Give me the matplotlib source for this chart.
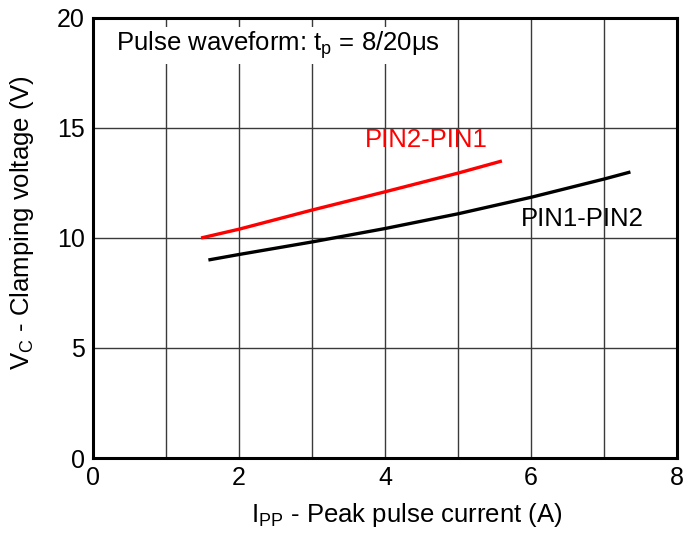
import matplotlib
matplotlib.use("Agg")
import matplotlib.pyplot as plt
from matplotlib.ticker import MultipleLocator

plt.rcParams["font.family"] = ["Liberation Sans", "DejaVu Sans"]
plt.rcParams["mathtext.fontset"] = "custom"
plt.rcParams["mathtext.rm"] = "Liberation Sans"

# PIN2-PIN1 (red) and PIN1-PIN2 (black) clamping voltage vs peak pulse current
ipp_21 = [1.48, 2.0, 3.0, 4.0, 5.0, 5.6]
vc_21 = [10.0, 10.4, 11.27, 12.1, 12.95, 13.5]

ipp_12 = [1.58, 2.0, 3.0, 4.0, 5.0, 6.0, 7.0, 7.36]
vc_12 = [9.0, 9.25, 9.82, 10.43, 11.1, 11.85, 12.68, 13.0]

fig = plt.figure(figsize=(6.84, 5.36), dpi=100)
ax = fig.add_axes([0.136, 0.1455, 0.854, 0.821])

ax.plot(ipp_21, vc_21, color="#ff0000", lw=2.4, solid_capstyle="butt")
ax.plot(ipp_12, vc_12, color="black", lw=2.4, solid_capstyle="butt")

ax.set_xlim(0, 8)
ax.set_ylim(0, 20)
ax.xaxis.set_major_locator(MultipleLocator(2))
ax.xaxis.set_minor_locator(MultipleLocator(1))
ax.yaxis.set_major_locator(MultipleLocator(5))
ax.grid(True, which="both", color="#3a3a3a", lw=1.0)
ax.set_axisbelow(True)
ax.tick_params(which="both", length=0, labelsize=18, pad=6)

for s in ax.spines.values():
    s.set_linewidth(2.2)

ax.set_xlabel("I$_\\mathregular{PP}$ - Peak pulse current (A)", fontsize=18.5, va="center")
ax.set_ylabel("V$_\\mathregular{C}$ - Clamping voltage (V)", fontsize=18.5, va="center")
ax.xaxis.set_label_coords(0.538, -0.13)
ax.yaxis.set_label_coords(-0.122, 0.536)

ax.text(0.32, 18.75, "Pulse waveform: t$_\\mathregular{p}$ = 8/20\u03bcs", fontsize=18.5,
        va="center", ha="left",
        bbox=dict(facecolor="white", edgecolor="none", pad=2))
ax.text(3.72, 14.45, "PIN2-PIN1", color="#ff0000", fontsize=18.5, va="center")
ax.text(5.86, 10.85, "PIN1-PIN2", color="black", fontsize=18.5, va="center")

fig.savefig("out.png", dpi=100)
